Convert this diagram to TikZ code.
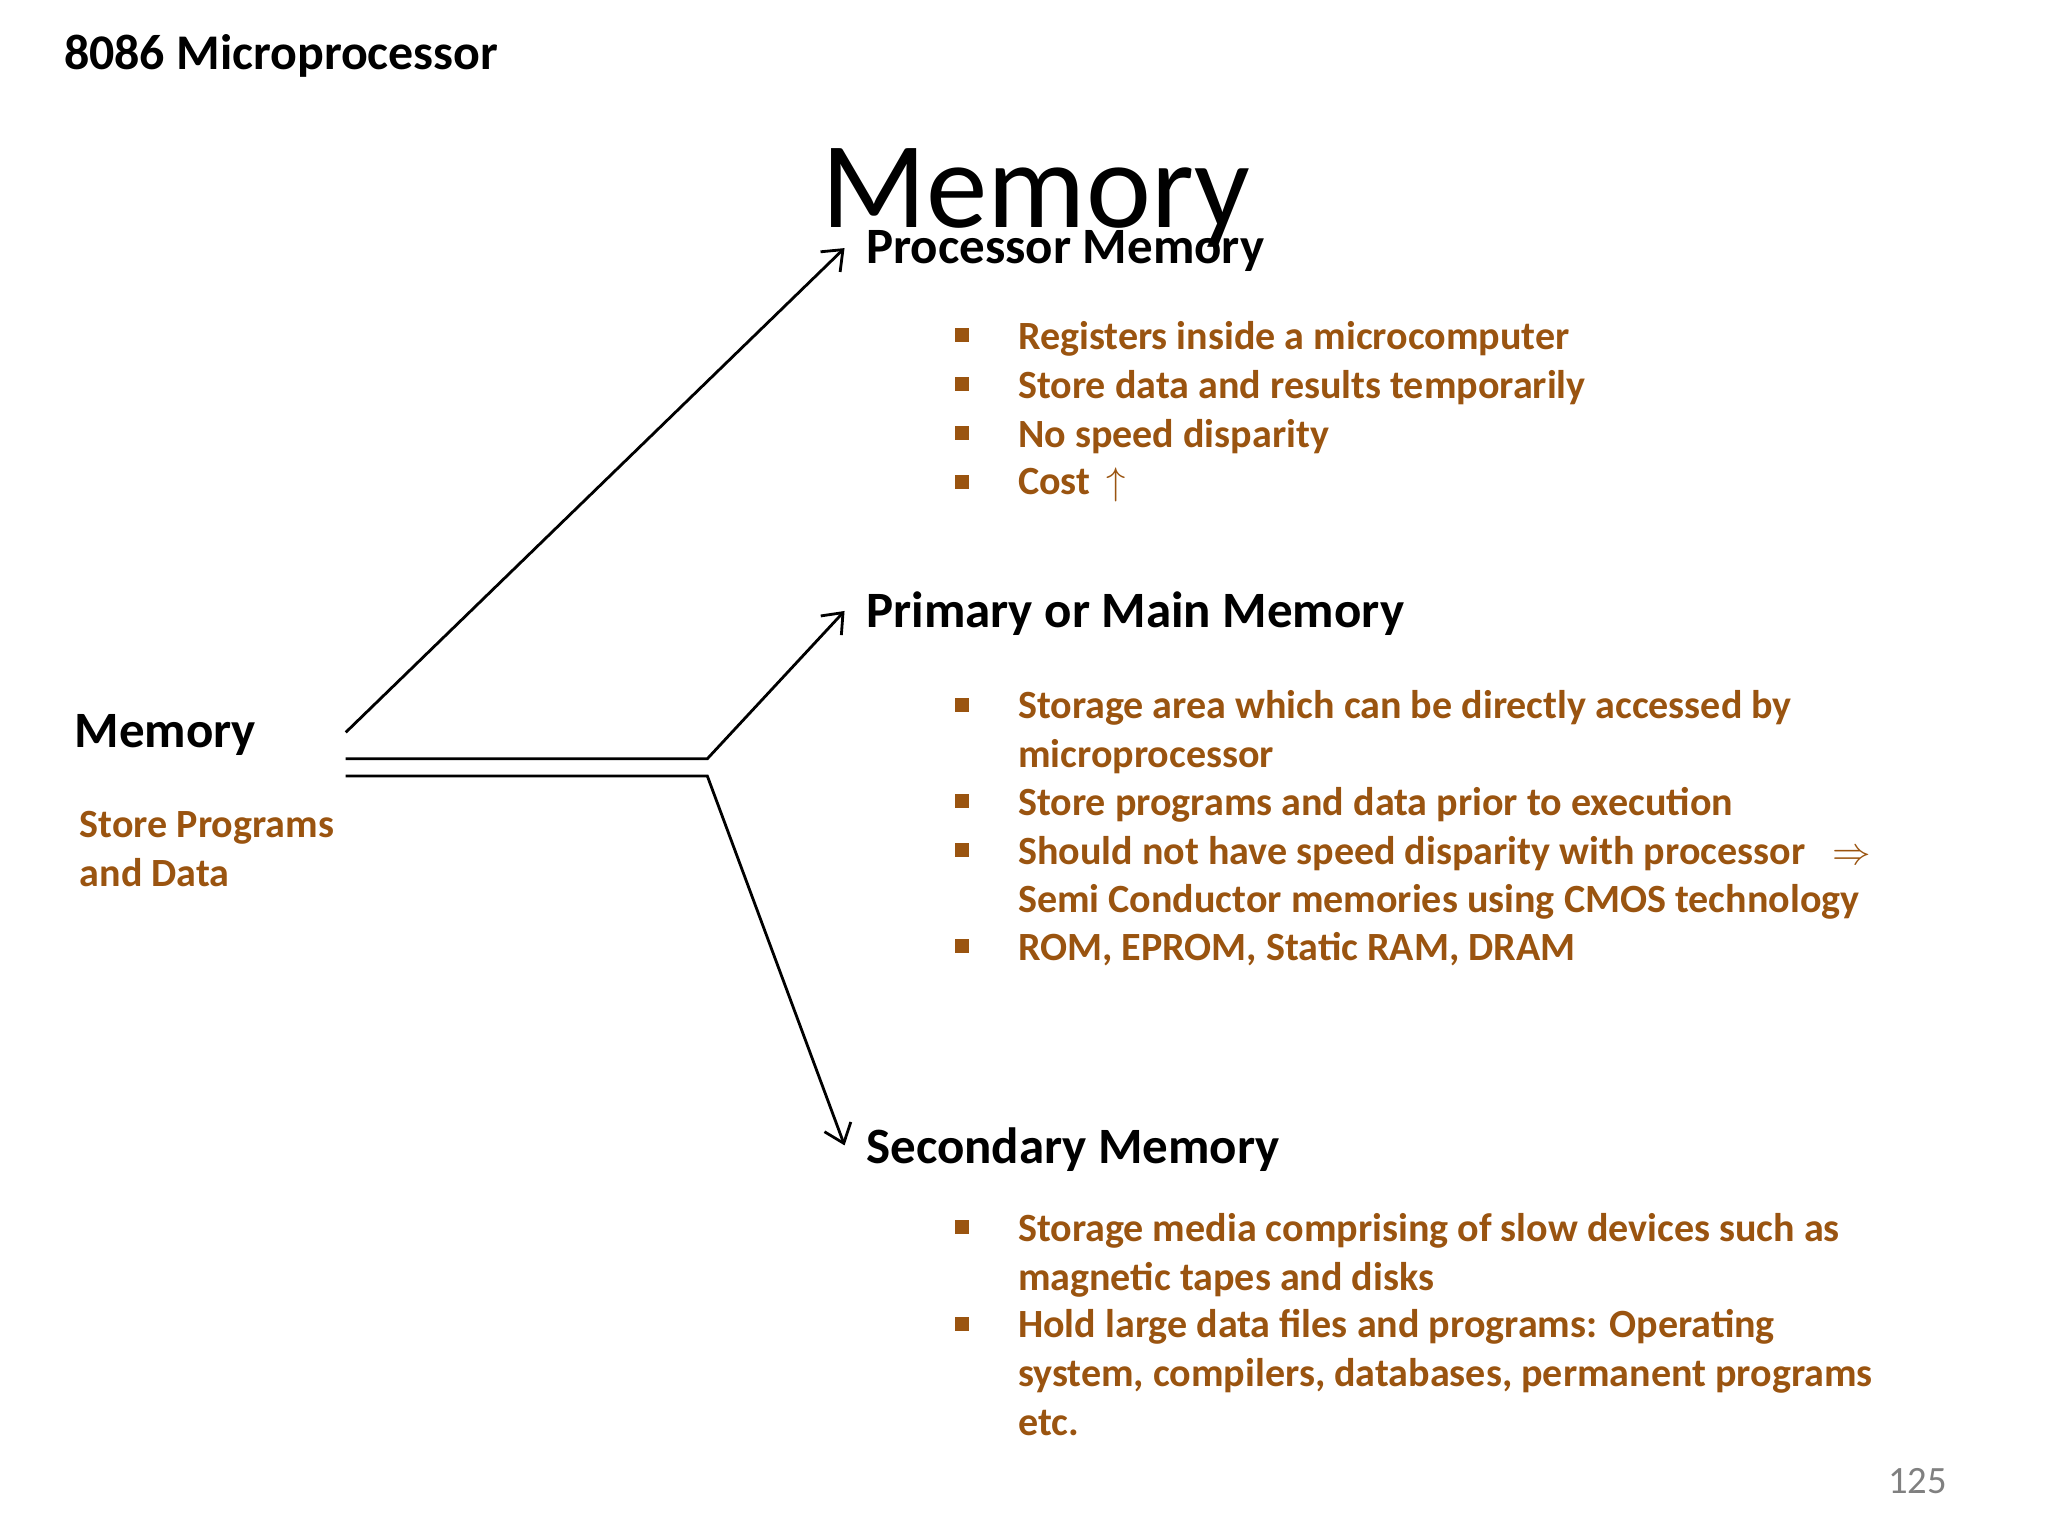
\documentclass[tikz,border=0pt]{standalone}
\usepackage{fontspec}
\setmainfont{Carlito}
\usetikzlibrary{arrows.meta}
\definecolor{br}{HTML}{9A5410}
\begin{document}
\begin{tikzpicture}[x=0.0132cm,y=-0.0132cm,
 hd/.style={anchor=west,inner sep=0pt,font=\bfseries\fontsize{14.5}{17}\selectfont},
 bt/.style={anchor=north west,text=br,font=\bfseries\fontsize{11.4}{13.9}\selectfont,align=left,inner sep=0pt},
 bl/.style={fill=br,minimum size=4pt,inner sep=0pt},
 ar/.style={-{Straight Barb[length=5pt,width=8pt]},thick}]
\useasboundingbox (0,0) rectangle (1552,1164);
\node[anchor=west,inner sep=0pt,font=\bfseries\fontsize{14.2}{16}\selectfont] (t) at (48,42) {8086 Microprocessor};
\node[font=\fontsize{35}{40}\selectfont] (T) at (785,150) {Memory};
\node[hd] (pm) at (656,190) {Processor Memory};
\node[hd] (mm) at (656,465) {Primary or Main Memory};
\node[hd] (sm) at (656,871) {Secondary Memory};
\node[hd] (m) at (56,557) {Memory};
\node[bt] (sp) at (60,614) {Store Programs\\and Data};
\coordinate (a1) at (262,555); \coordinate (a2) at (262,575); \coordinate (a3) at (262,588);
\coordinate (b2) at (536,575); \coordinate (b3) at (536,588);
\coordinate (e1) at (640,188); \coordinate (e2) at (640,463); \coordinate (e3) at (640,868);
\draw[ar] (a1) -- (e1);
\draw[ar] (a2) -- (b2) -- (e2);
\draw[ar] (a3) -- (b3) -- (e3);
\foreach \y/\t in {243/Registers inside a microcomputer,280/Store data and results temporarily,317/No speed disparity,354/Cost \,$\uparrow$,
 523/Storage area which can be directly accessed by\\microprocessor,596/Store programs and data prior to execution,
 633/Should not have speed disparity with processor \ \ $\Rightarrow$\\Semi Conductor memories using CMOS technology,706/{ROM, EPROM, Static RAM, DRAM},
 919/Storage media comprising of slow devices such as\\magnetic tapes and disks,992/{Hold large data files and programs: Operating\\system, compilers, databases, permanent programs\\etc.}}
{\node[bl] at (729,\y+11) {}; \node[bt] at (771,\y) {\t};}
\node[text=gray,font=\fontsize{11}{13}\selectfont] (pg) at (1453,1122) {125};
\end{tikzpicture}
\end{document}
